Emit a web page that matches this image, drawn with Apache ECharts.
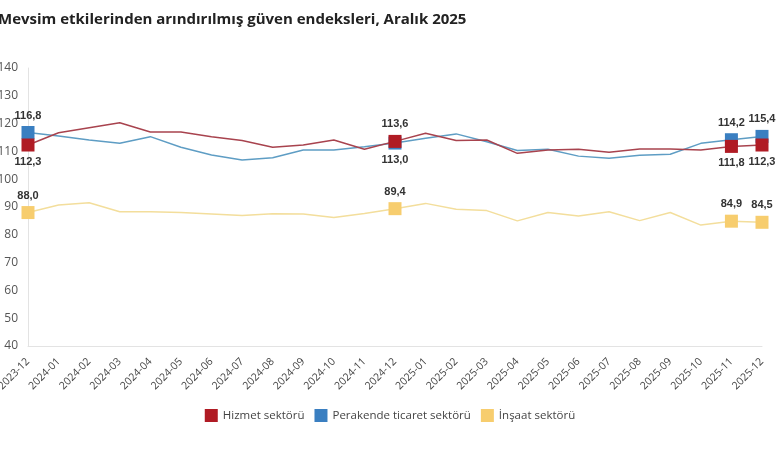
<!DOCTYPE html>
<html>
<head>
<meta charset="utf-8">
<script src="https://cdn.jsdelivr.net/npm/echarts@6/dist/echarts.min.js"></script>
<style>
  html, body { margin: 0; padding: 0; background: #fff; }
  #chart { width: 780px; height: 470px; }
</style>
</head>
<body>
<div id="chart"></div>
<script>
// Months on the x axis
const months = [
    "2023-12", "2024-01", "2024-02", "2024-03", "2024-04", "2024-05", "2024-06",
    "2024-07", "2024-08", "2024-09", "2024-10", "2024-11", "2024-12", "2025-01",
    "2025-02", "2025-03", "2025-04", "2025-05", "2025-06", "2025-07", "2025-08",
    "2025-09", "2025-10", "2025-11", "2025-12"
];

// Index values
const hizmet = [
    112.3, 116.7, 118.5, 120.3, 117.0, 117.0, 115.3, 113.9, 111.5, 112.3,
    114.1, 110.8, 113.6, 116.5, 113.9, 114.1, 109.3, 110.5, 110.8, 109.7,
    110.9, 110.9, 110.5, 111.8, 112.3
];
const perakende = [
    116.8, 115.5, 114.1, 112.9, 115.3, 111.5, 108.7, 106.9, 107.7, 110.5,
    110.5, 111.7, 113.0, 114.7, 116.3, 113.5, 110.3, 110.8, 108.3, 107.5,
    108.6, 109.0, 112.9, 114.2, 115.4
];
const insaat = [
    88.0, 90.7, 91.5, 88.3, 88.3, 88.0, 87.5, 86.9, 87.6, 87.5,
    86.2, 87.7, 89.4, 91.3, 89.2, 88.7, 85.0, 88.0, 86.8, 88.3,
    85.1, 88.0, 83.5, 84.9, 84.5
];

// Months that get a square marker and a value label
const marked = [0, 12, 23, 24];
const hizmetLabelPos = { 0: "bottom", 12: "top", 23: "bottom", 24: "bottom" };
const perakendeLabelPos = { 0: "top", 12: "bottom", 23: "top", 24: "top" };
const insaatLabelPos = { 0: "top", 12: "top", 23: "top", 24: "top" };

const fmt = (v) => v.toFixed(1).replace(".", ",");

function buildData(values, markerColor, positions) {
    return values.map((v, i) => {
        if (!marked.includes(i)) return { value: v, symbol: "none" };
        return {
            value: v,
            symbol: "rect",
            symbolSize: 13,
            itemStyle: { color: markerColor },
            label: {
                show: true,
                position: positions[i],
                distance: 5,
                formatter: () => fmt(v),
                color: "#333",
                fontSize: 11,
                fontWeight: "bold",
                fontFamily: "Liberation Sans, Arial, sans-serif",
            },
        };
    });
}

function lineSeries(name, values, lineColor, markerColor, positions, z) {
    return {
        name,
        type: "line",
        z,
        showSymbol: true,
        symbol: "none",
        data: buildData(values, markerColor, positions),
        lineStyle: { color: lineColor, width: 1.5 },
        itemStyle: { color: markerColor },
        emphasis: { disabled: true },
        animation: false,
    };
}

const chart = echarts.init(document.getElementById("chart"), null, { renderer: "canvas" });

chart.setOption({
    backgroundColor: "#fff",
    animation: false,
    title: {
        text: "Mevsim etkilerinden arındırılmış güven endeksleri, Aralık 2025",
        left: -7,
        top: 7,
        textStyle: {
            fontFamily: "Open Sans, sans-serif",
            fontSize: 15,
            fontWeight: "bold",
            color: "#222",
        },
    },
    legend: {
        top: 404,
        left: "center",
        itemWidth: 13,
        itemHeight: 13,
        itemGap: 10,
        icon: "rect",
        data: [
            { name: "Hizmet sektörü", itemStyle: { color: "#B01B24" } },
            { name: "Perakende ticaret sektörü", itemStyle: { color: "#3A7FC1" } },
            { name: "İnşaat sektörü", itemStyle: { color: "#F7CD6E" } },
        ],
        textStyle: { color: "#444", fontSize: 11.5, fontFamily: "Open Sans, sans-serif" },
    },
    grid: { left: 28, right: 18, top: 68, bottom: 124, outerBoundsMode: "none", containLabel: false },
    xAxis: {
        type: "category",
        data: months,
        boundaryGap: false,
        axisLine: { lineStyle: { color: "#e3e3e3" } },
        axisTick: { show: false },
        axisLabel: {
            rotate: 45,
            interval: 0,
            color: "#444",
            fontSize: 10.5,
            margin: 14,
            padding: [0, 0, 0, 0],
            fontFamily: "Open Sans, sans-serif",
            formatter: (v) => v,
        },
    },
    yAxis: {
        type: "value",
        min: 40,
        max: 140,
        interval: 10,
        axisLine: { show: true, lineStyle: { color: "#e3e3e3" } },
        axisTick: { show: false },
        splitLine: { show: false },
        axisLabel: {
            color: "#555",
            fontSize: 12,
            margin: 10,
            fontFamily: "Open Sans, sans-serif",
        },
    },
    series: [
        lineSeries("Perakende ticaret sektörü", perakende, "#5E9DC4", "#3A7FC1", perakendeLabelPos, 2),
        lineSeries("Hizmet sektörü", hizmet, "#A8434E", "#B01B24", hizmetLabelPos, 3),
        lineSeries("İnşaat sektörü", insaat, "#F3DE9C", "#F7CD6E", insaatLabelPos, 2),
    ],
});
</script>
</body>
</html>
